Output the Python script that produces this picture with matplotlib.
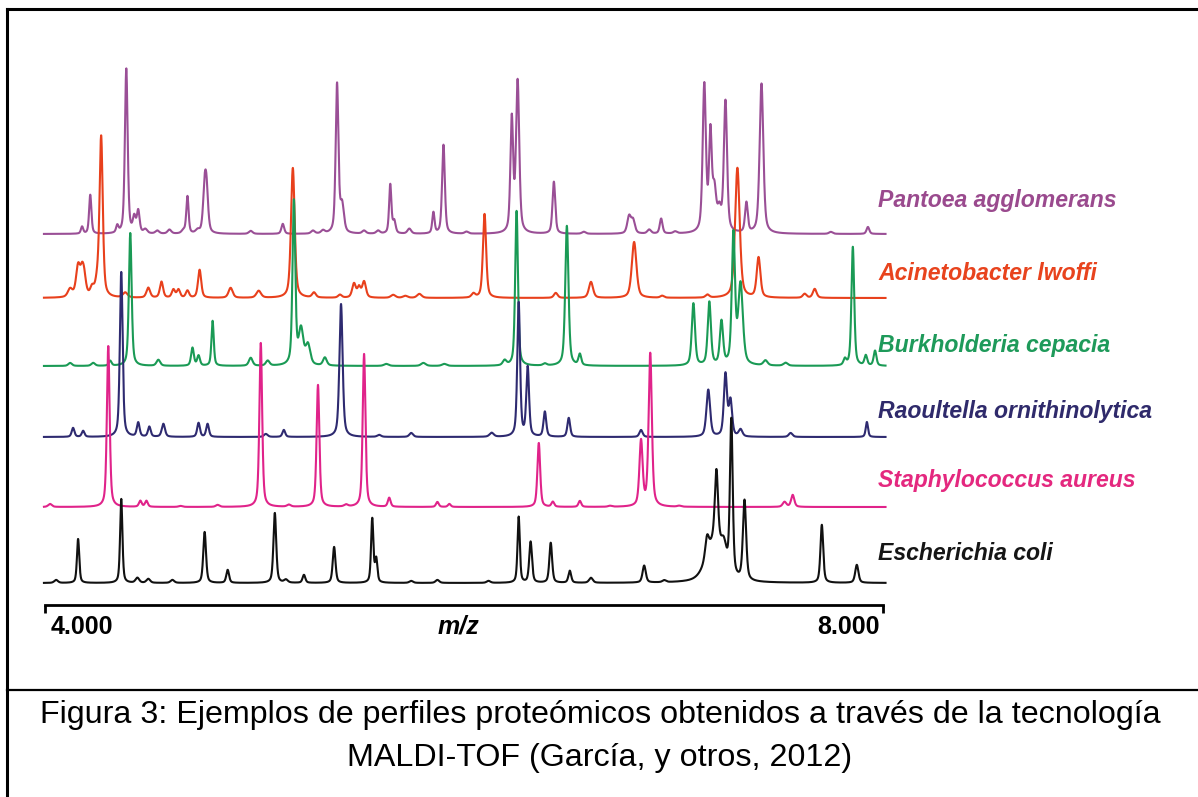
import numpy as np
import matplotlib
matplotlib.use("Agg")
import matplotlib.pyplot as plt
import matplotlib.transforms as mtransforms
from matplotlib.lines import Line2D

# ---------------- data (m/z of peaks, relative intensity, peak half-width) -------------
species = ["Pantoea agglomerans", "Acinetobacter lwoffi", "Burkholderia cepacia",
           "Raoultella ornithinolytica", "Staphylococcus aureus", "Escherichia coli"]

pantoea_mz = [4177, 4216, 4345, 4388, 4426, 4445, 4479, 4536, 4594, 4661, 4680, 4728,
              4762, 4771, 4982, 5135, 5279, 5327, 5394, 5418, 5523, 5590, 5648, 5667,
              5739, 5854, 5902, 6012, 6228, 6256, 6429, 6572, 6788, 6807, 6884, 6941,
              7008, 7147, 7176, 7195, 7219, 7248, 7348, 7420, 7751, 7928]
pantoea_int = [7, 39, 7, 165, 15, 22, 4, 3, 4, 3, 37, 3,
               40, 38, 3, 10, 3, 3, 149, 27, 3, 3, 49, 12,
               5, 21, 89, 2, 113, 151, 52, 2, 17, 13, 4, 15,
               2, 147, 95, 40, 20, 131, 30, 150, 2, 7]
pantoea_w = [5, 5, 5, 6, 6, 6, 8, 8, 8, 8, 5, 8,
             7, 7, 8, 6, 8, 8, 6, 8, 8, 8, 5, 6,
             8, 5, 6, 8, 6, 7, 6, 8, 8, 8, 8, 6,
             8, 7, 6, 8, 8, 7, 6, 8, 8, 6]

acineto_mz = [4120, 4158, 4177, 4187, 4225, 4249, 4268, 4383, 4493, 4556, 4613, 4637,
              4680, 4738, 4886, 5020, 5183, 5284, 5408, 5475, 5499, 5523, 5662, 5720,
              5787, 6045, 6098, 6438, 6606, 6812, 6946, 7162, 7305, 7406, 7626, 7674]
acineto_int = [8, 30, 20, 16, 8, 12, 160, 5, 10, 16, 8, 8,
               7, 28, 10, 7, 130, 5, 3, 14, 10, 16, 3, 2,
               4, 4, 84, 5, 16, 56, 2, 3, 130, 40, 4, 9]
acineto_w = [10, 9, 8, 8, 8, 8, 7, 10, 8, 7, 7, 7,
             7, 7, 9, 10, 8, 8, 8, 8, 7, 8, 10, 10,
             10, 8, 7, 8, 9, 10, 8, 8, 10, 8, 8, 8]

burk_mz = [4120, 4230, 4311, 4407, 4541, 4704, 4733, 4800, 4982, 5063, 5188, 5222,
           5255, 5336, 5629, 5806, 5906, 6194, 6251, 6386, 6491, 6553, 7095, 7171,
           7229, 7286, 7320, 7439, 7535, 7818, 7856, 7918, 7962]
burk_int = [3, 3, 5, 133, 6, 18, 10, 45, 8, 5, 164, 35,
            20, 8, 2, 3, 2, 5, 155, 2, 140, 11, 62, 63,
            43, 130, 80, 5, 3, 6, 119, 10, 15]
burk_w = [8, 8, 6, 6, 8, 6, 6, 5, 8, 8, 6, 10,
          10, 8, 10, 10, 10, 8, 6, 8, 7, 6, 7, 7,
          7, 7, 10, 9, 9, 6, 6, 6, 6]

raoul_mz = [4134, 4182, 4364, 4445, 4498, 4565, 4733, 4776, 5054, 5140, 5413, 5595,
            5748, 6132, 6261, 6304, 6386, 6500, 6845, 7166, 7248, 7272, 7320, 7559, 7923]
raoul_int = [9, 6, 165, 14, 10, 13, 14, 13, 3, 7, 133, 2,
             4, 4, 134, 69, 25, 19, 7, 47, 62, 35, 7, 4, 15]
raoul_w = [6, 6, 6, 6, 6, 7, 6, 6, 8, 6, 7, 8,
           8, 9, 6, 6, 6, 6, 7, 8, 7, 7, 8, 8, 5]

staph_mz = [4024, 4302, 4455, 4484, 4647, 4824, 5030, 5164, 5303, 5437, 5523, 5643,
            5873, 5930, 6357, 6424, 6553, 6697, 6845, 6889, 7027, 7530, 7569]
staph_int = [3, 161, 6, 6, 1, 2, 164, 2, 122, 2, 153, 9,
             5, 3, 64, 5, 6, 1, 65, 153, 1, 5, 12]
staph_w = [8, 6, 6, 6, 8, 8, 6, 8, 6, 8, 6, 6,
           6, 6, 6, 6, 6, 8, 7, 7, 8, 8, 7]

ecoli_mz = [4053, 4158, 4364, 4441, 4493, 4608, 4762, 4872, 5097, 5150, 5236, 5380,
            5562, 5581, 5748, 5873, 6117, 6261, 6318, 6414, 6505, 6606, 6860, 6956,
            7195, 7160, 7205, 7240, 7276, 7339, 7708, 7875]
ecoli_int = [3, 44, 84, 5, 4, 3, 51, 13, 70, 3, 8, 36,
             64, 23, 2, 3, 2, 66, 41, 40, 12, 5, 17, 2,
             40, 20, 72, 20, 155, 80, 58, 18]
ecoli_w = [8, 5, 5, 8, 8, 8, 6, 6, 6, 8, 6, 6,
           5, 5, 8, 8, 8, 5, 6, 6, 6, 8, 7, 8,
           35, 8, 7, 12, 6, 7, 6, 7]

# vertical offsets of each trace (stacking) and colours
offsets = [371, 307, 239, 168, 98, 22]
line_colors = ["#9a4f96", "#e8401c", "#1a9a55", "#2e2a70", "#e0238a", "#111111"]
label_colors = ["#9a4a8e", "#e8431d", "#1e9a5a", "#2f2a6b", "#e4287f", "#151515"]
xtick_vals = [4000, 8000]
xtick_labels = ["4.000", "8.000"]
xlabel = "m/z"
caption = ["Figura 3: Ejemplos de perfiles proteómicos obtenidos a través de la tecnología",
           "MALDI-TOF (García, y otros, 2012)"]

peak_sets = [(pantoea_mz, pantoea_int, pantoea_w),
             (acineto_mz, acineto_int, acineto_w),
             (burk_mz, burk_int, burk_w),
             (raoul_mz, raoul_int, raoul_w),
             (staph_mz, staph_int, staph_w),
             (ecoli_mz, ecoli_int, ecoli_w)]

# ---------------- figure ----------------
W, H = 1198, 797
fig = plt.figure(figsize=(W / 100, H / 100), dpi=100)
fig.patch.set_facecolor("white")


def fx(px):
    return px / W


def fy(py):
    return 1 - py / H


ax = fig.add_axes([fx(45), fy(605), (883 - 45) / W, (605 - 9) / H])
ax.set_xlim(4000, 8000)
ax.set_ylim(0, 596)

mz = np.linspace(3995, 8012, 8000)
WIDTH_SCALE = 1.3


def spectrum(centers, heights, widths):
    c = np.asarray(centers, float)[:, None]
    h = np.asarray(heights, float)[:, None]
    w = np.asarray(widths, float)[:, None] * WIDTH_SCALE
    d = (mz[None, :] - c) / w
    shape = 0.5 / (1 + d ** 2) + 0.5 * np.exp(-np.log(2) * d ** 2)
    return (h * shape).sum(axis=0)


for (c, h, w), off, col in zip(peak_sets, offsets, line_colors):
    ax.plot(mz, off + spectrum(c, h, w), color=col, lw=1.5, clip_on=False,
            solid_joinstyle="round")

# axis styling
for s in ["top", "right", "left"]:
    ax.spines[s].set_visible(False)
ax.spines["bottom"].set_linewidth(2.0)
ax.set_yticks([])
ax.set_xticks(xtick_vals)
ax.set_xticklabels(xtick_labels, fontsize=18, fontweight="bold",
                   family="Liberation Sans")
ax.tick_params(axis="x", direction="out", length=6, width=2, pad=1.5)
tl = ax.get_xticklabels()
tl[0].set_ha("left")
tl[1].set_ha("right")
# small horizontal nudges of the end labels
tl[0].set_transform(tl[0].get_transform() +
                    mtransforms.ScaledTranslation(6 / 100, 0, fig.dpi_scale_trans))
tl[1].set_transform(tl[1].get_transform() +
                    mtransforms.ScaledTranslation(-3 / 100, 0, fig.dpi_scale_trans))
ax.text(5975, -10, xlabel, transform=ax.transData, ha="center", va="top",
        fontsize=18, fontweight="bold", fontstyle="italic",
        family="Liberation Sans", clip_on=False)

# species labels
label_baselines = [207, 280, 352, 418, 487, 560]
for name, yb, col in zip(species, label_baselines, label_colors):
    fig.text(fx(878), fy(yb), name, ha="left", va="baseline", color=col,
             fontsize=16.6, fontweight="bold", fontstyle="italic",
             family="Liberation Sans")

# caption
fig.text(fx(600), fy(723), caption[0], ha="center", va="baseline",
         fontsize=23.2, family="Liberation Sans", color="black")
fig.text(fx(600), fy(766), caption[1], ha="center", va="baseline",
         fontsize=23.2, family="Liberation Sans", color="black")

# frame lines
fig.add_artist(Line2D([fx(7), 1], [fy(9), fy(9)], color="black", lw=2.2))
fig.add_artist(Line2D([fx(7), fx(7)], [fy(9), 0], color="black", lw=2.2))
fig.add_artist(Line2D([fx(7), 1], [fy(690), fy(690)], color="black", lw=1.6))

fig.savefig("out.png", dpi=100)
